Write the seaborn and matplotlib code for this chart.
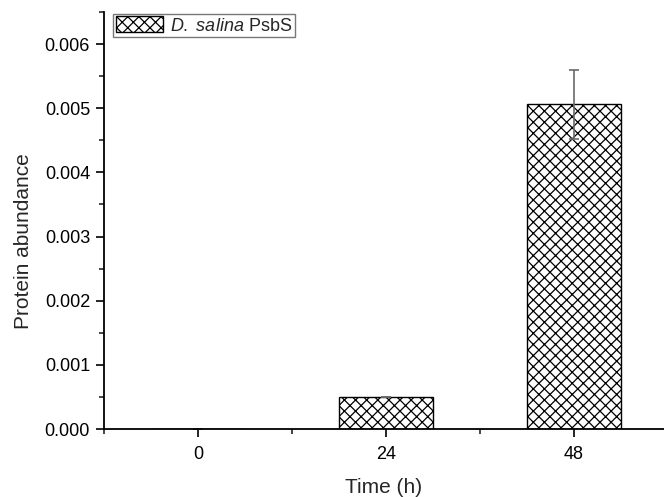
import numpy as np
import pandas as pd
import matplotlib
matplotlib.use("Agg")
import matplotlib.pyplot as plt
from matplotlib.ticker import MultipleLocator, FixedLocator
import seaborn as sns

times = ["0", "24", "48"]
abundance = [0.0, 0.0005, 0.00506]
abundance_err = [0.0, 0.000006, 0.00054]
legend_label = r"$\mathit{D.}$ $\mathit{salina}$ PsbS"

sns.set_style("ticks")
plt.rcParams["font.family"] = ["Liberation Sans", "DejaVu Sans"]
plt.rcParams["mathtext.fontset"] = "custom"
plt.rcParams["mathtext.it"] = "Liberation Sans:italic"
plt.rcParams["mathtext.rm"] = "Liberation Sans"
plt.rcParams["hatch.linewidth"] = 0.9

data = pd.DataFrame({"Time": times, "Abundance": abundance})

fig = plt.figure(figsize=(6.64, 4.97), dpi=100)
ax = fig.add_axes([0.1566, 0.1368, 0.8434, 0.839])

sns.barplot(data=data, x="Time", y="Abundance", ax=ax, color="white",
            edgecolor="black", linewidth=1.0, width=0.5, errorbar=None,
            label=legend_label)
for p in ax.patches:
    p.set_hatch("xxx")

ax.errorbar(np.arange(len(times)), abundance, yerr=abundance_err, fmt="none",
            ecolor="#6a6a6a", elinewidth=1.2, capsize=3.5, capthick=1.2)

ax.set_xlim(-0.5, 2.48)
ax.set_ylim(0, 0.0065)
ax.yaxis.set_major_locator(MultipleLocator(0.001))
ax.yaxis.set_minor_locator(MultipleLocator(0.0005))
ax.yaxis.set_major_formatter(matplotlib.ticker.FormatStrFormatter("%.3f"))
ax.xaxis.set_minor_locator(FixedLocator([-0.5, 0.5, 1.5]))
ax.tick_params(axis="both", which="major", direction="out", length=6, width=1.2,
               labelsize=13, colors="black")
ax.tick_params(axis="x", which="major", pad=6)
ax.tick_params(axis="y", which="major", pad=4)
ax.tick_params(axis="both", which="minor", direction="out", length=3.5, width=1.2)

sns.despine(ax=ax)
for s in ["left", "bottom"]:
    ax.spines[s].set_linewidth(1.3)
    ax.spines[s].set_color("black")

ax.set_xlabel("Time (h)", fontsize=15, labelpad=11)
ax.set_ylabel("Protein abundance", fontsize=15)
ax.yaxis.set_label_coords(-0.127, 0.45)

leg = ax.legend(loc="upper left", bbox_to_anchor=(0.01, 1.005), fontsize=13,
                fancybox=False, edgecolor="#777777", framealpha=1,
                handlelength=2.6, handleheight=1.0, handletextpad=0.4,
                borderpad=0.15, borderaxespad=0.2)
leg.get_frame().set_linewidth(1.0)

fig.savefig("out.png", dpi=100)
